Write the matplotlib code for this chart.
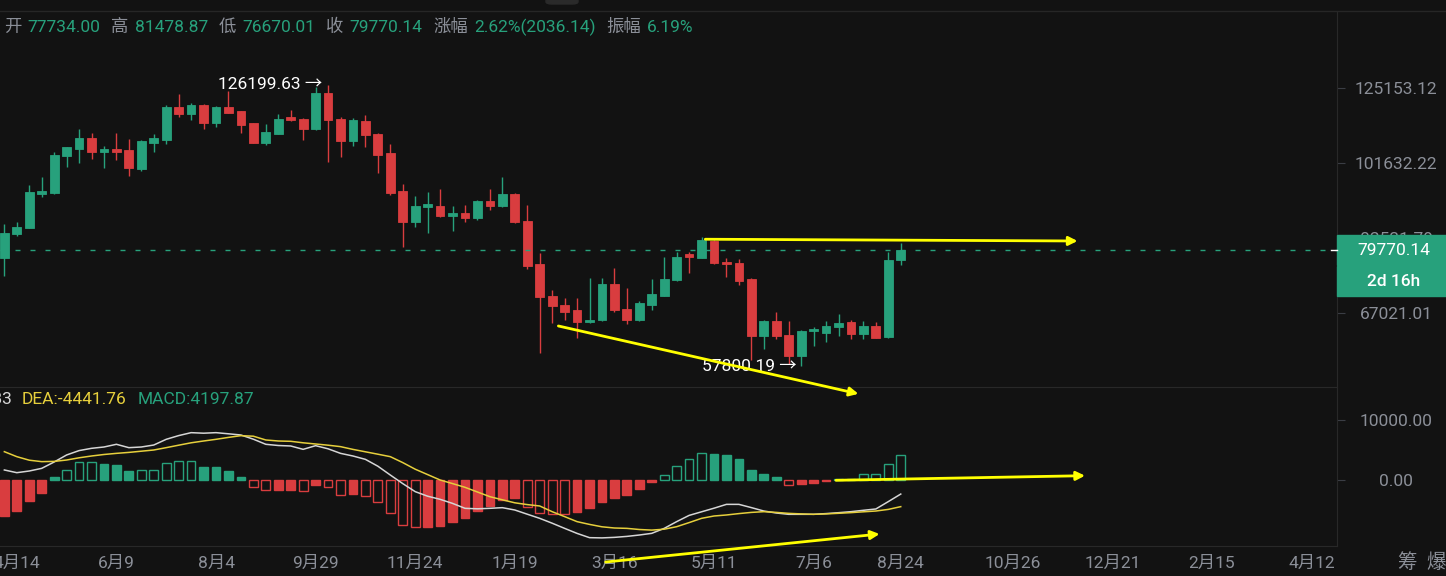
import numpy as np
import pandas as pd
import matplotlib
matplotlib.use("Agg")
import matplotlib.pyplot as plt
from matplotlib.patches import Rectangle, FancyBboxPatch
from matplotlib.lines import Line2D
from matplotlib.ticker import FixedLocator, NullLocator, FuncFormatter

plt.rcParams['font.family'] = ['Roboto', 'Noto Sans CJK SC', 'DejaVu Sans']

# weekly candles, first bar is the week of 2025-04-07
start_week = '2025-04-07'

opens = [78160, 83480, 84870, 93280, 93620, 103630, 105640, 108830, 104890, 105640,
         105380, 99860, 107540, 108350, 118710, 116440, 119380, 113480, 118610, 117320,
         113480, 107540, 110250, 115360, 114910, 111570, 123320, 114810, 108050, 114300,
         110160, 104420, 94060, 86310, 90040, 90220, 87820, 88420, 87330, 91410,
         90290, 93280, 86550, 76750, 70290, 68560, 67490, 65280, 65650, 72680,
         67790, 65650, 68560, 70350, 73350, 78910, 78160, 81950, 77310, 77100,
         73670, 62910, 65590, 63090, 59400, 63670, 63490, 64550, 65280, 63210,
         64680, 62680, 77734.00]
highs = [85830, 86310, 95550, 97680, 104800, 106330, 111670, 110560, 106540, 110370,
         108710, 108350, 110160, 119380, 122980, 119950, 119600, 119040, 124220, 117400,
         113600, 113160, 116440, 117750, 115000, 125600, 126199.63, 115560, 115040, 116110,
         110560, 107140, 95820, 92830, 93880, 94470, 90220, 90470, 91740, 94580,
         97850, 93400, 90470, 79270, 71480, 69950, 69840, 73820, 73820, 75890,
         71800, 69200, 73610, 78250, 79490, 79490, 82710, 82110, 78030, 77870,
         73820, 65770, 67190, 65590, 63970, 64550, 65590, 66820, 65770, 65470,
         65280, 79490, 81478.87]
lows = [74360, 83010, 84800, 92570, 93280, 100510, 101730, 102840, 100140, 102500,
        98040, 99420, 104890, 107140, 115560, 114530, 111570, 112400, 116670, 110560,
        107360, 106930, 110100, 114300, 108350, 111400, 101850, 103430, 106540, 106150,
        98790, 92940, 80450, 85180, 83650, 87580, 84250, 86240, 86790, 89230,
        90040, 86000, 75680, 59970, 65170, 65650, 62500, 65200, 65600, 67300,
        65050, 65600, 67620, 70300, 73300, 74860, 78100, 76750, 74150, 72470,
        58870, 60670, 62320, 58210, 57800.19, 61190, 61760, 62960, 62320, 62320,
        62500, 62600, 76670.01]
closes = [83650, 85180, 93720, 94060, 104010, 106150, 108830, 104890, 105640, 104890,
          100140, 108050, 108830, 118810, 116340, 119380, 113480, 118710, 116870, 112940,
          107540, 110680, 114810, 114530, 111570, 123320, 114530, 108050, 114530, 109850,
          104010, 93620, 86310, 90220, 90650, 87750, 88420, 87330, 91410, 90290,
          93280, 86240, 76390, 70150, 68370, 67300, 65280, 65770, 72680, 67490,
          65650, 69000, 70690, 73610, 78380, 78250, 82110, 77100, 76820, 73290,
          62910, 65590, 62910, 59400, 63670, 64130, 64680, 65170, 63210, 64680,
          62610, 77734.00, 79770.14]

dif = [1670, 1220, 1500, 1940, 3000, 4170, 4900, 5280, 5500, 5950,
       5390, 5500, 5830, 6780, 7400, 7890, 7800, 7890, 7700, 7500,
       6800, 5950, 5750, 5670, 5110, 5720, 5200, 4440, 4000, 3440,
       2300, 830, -600, -1940, -2700, -3220, -3900, -4720, -4800, -4720,
       -4610, -5000, -5700, -6390, -7200, -8060, -8900, -9610, -9650, -9560,
       -9400, -9170, -8890, -8060, -6940, -5900, -5300, -4700, -4060, -4060,
       -4600, -5170, -5500, -5720, -5720, -5720, -5600, -5450, -5280, -5050,
       -4830, -3600, -2342.83]
dea = [4720, 3890, 3300, 3060, 3100, 3330, 3700, 4000, 4250, 4440,
       4600, 4800, 5000, 5390, 5800, 6200, 6500, 6780, 7100, 7390,
       7300, 6670, 6500, 6450, 6200, 6000, 5800, 5560, 5100, 4700,
       4300, 3890, 2900, 1800, 900, 0, -600, -1220, -2000, -2780,
       -3300, -3800, -4100, -4330, -5280, -6100, -6940, -7400, -7800, -8000,
       -8060, -8250, -8350, -8200, -7780, -7100, -6390, -6000, -5830, -5600,
       -5400, -5280, -5400, -5560, -5650, -5720, -5650, -5550, -5440, -5300,
       -5170, -4900, -4441.76]
macd_hist = [-6000, -5170, -3450, -2220, 450, 1670, 2950, 3000, 2670, 2500,
             1500, 1670, 1720, 2780, 3110, 3220, 2220, 2200, 1560, 450,
             -1110, -1700, -1650, -1620, -1780, -830, -1110, -2420, -2380, -2610,
             -3610, -5560, -7500, -7890, -7780, -7670, -6940, -6390, -5110, -4330,
             -3330, -3060, -4560, -5440, -5670, -5720, -5400, -4600, -3700, -2950,
             -2500, -1500, -390, 830, 2390, 3440, 4460, 4400, 4170, 3440,
             1670, 1000, 440, -890, -670, -440, -220, 200, 190, 940,
             950, 2670, 4197.87]

price_ticks = [125153.12, 101632.22, 82531.79, 67021.01]
macd_ticks = [10000, 0]
tick_dates = ['2025-04-14', '2025-06-09', '2025-08-04', '2025-09-29', '2025-11-24',
              '2026-01-19', '2026-03-16', '2026-05-11', '2026-07-06', '2026-08-24',
              '2026-10-26', '2026-12-21', '2027-02-15', '2027-04-12']
tick_labels = ['4月14', '6月9', '8月4', '9月29', '11月24', '1月19', '3月16', '5月11',
               '7月6', '8月24', '10月26', '12月21', '2月15', '4月12']
countdown = '2d 16h'

# hand-drawn yellow lines: (week index, value) start and end
upper_line = [(56.3, 82250), (86.2, 81850)]
lower_line = [(44.5, 64650), (68.6, 53550)]
macd_line = [(66.8, -50), (86.8, 720)]
macd_low_line = [(48.3, -13670), (70.3, -9000)]

BG = '#121212'
GREEN = '#27a17c'
RED = '#d93d3f'
GRAY = '#8b8f98'
YELLOW = '#ffff00'
DEA_C = '#e6cf3c'
LINE = '#282828'

W, H = 1446, 576
fig = plt.figure(figsize=(W / 100, H / 100), dpi=100, facecolor=BG)
ax = fig.add_axes([0, 1 - 387 / H, 1337 / W, 375 / H])
ax2 = fig.add_axes([0, 1 - 546 / H, 1337 / W, 158 / H], sharex=ax)
for a in (ax, ax2):
    a.set_facecolor('none')
    for s in ('top', 'left'):
        a.spines[s].set_visible(False)
    for s in ('bottom', 'right'):
        a.spines[s].set_color(LINE)

o = np.array(opens, float)
h = np.array(highs, float)
l = np.array(lows, float)
c = np.array(closes, float)
x = np.arange(len(c))
cols = np.where(c >= o, GREEN, RED)

ax.vlines(x, l, h, colors=cols, lw=1.0)
ax.bar(x, np.abs(c - o), bottom=np.minimum(o, c), width=0.7, color=cols,
       edgecolor=cols, lw=0.6)
ax.set_yscale('log')
ax.set_ylim(54577, 154545)
ax.set_xlim(-0.35, 107.04)
ax.axhline(c[-1], color=GREEN, lw=1, dashes=(3.6, 7.2))

ax.yaxis.set_major_locator(FixedLocator(price_ticks))
ax.yaxis.set_minor_locator(NullLocator())
ax.yaxis.set_major_formatter(FuncFormatter(lambda v, p: f'{v:.2f}'))
ax.yaxis.tick_right()
ax.tick_params(axis='y', colors='#3a3d44', labelcolor=GRAY, length=6, pad=36.5,
               labelsize=12.5)
for lab in ax.get_yticklabels():
    lab.set_horizontalalignment('center')
ax.tick_params(axis='x', bottom=False, labelbottom=False)

# extreme labels
ih = int(np.argmax(h))
ilo = int(np.argmin(l))
ax.text(ih - 0.45, h[ih], f'{h[ih]:.2f} →', color='white', fontsize=12.5,
        ha='right', va='center')
ax.text(ilo - 0.33, l[ilo], f'{l[ilo]:.2f} →', color='white', fontsize=12.5,
        ha='right', va='center')

# MACD pane
hist = np.array(macd_hist, float)
prev = np.concatenate([[hist[0]], hist[:-1]])
hcol = np.where(hist >= 0, GREEN, RED)
hollow = np.abs(hist) > np.abs(prev)
face = [('none' if ho else col) for ho, col in zip(hollow, hcol)]
ax2.bar(x, hist, width=0.7, color=face, edgecolor=hcol, lw=1.0)
ax2.plot(x, dif, color='#d6d6d6', lw=1.1)
ax2.plot(x, dea, color=DEA_C, lw=1.1)
ax2.set_ylim(-11000, 15333)
ax2.yaxis.set_major_locator(FixedLocator(macd_ticks))
ax2.yaxis.set_major_formatter(FuncFormatter(lambda v, p: f'{v:.2f}'))
ax2.yaxis.tick_right()
ax2.tick_params(axis='y', colors='#3a3d44', labelcolor=GRAY, length=6, pad=36.5,
                labelsize=12.5)
for lab in ax2.get_yticklabels():
    lab.set_horizontalalignment('center')

tick_pos = (pd.to_datetime(tick_dates) - pd.Timestamp(start_week)).days / 7
ax2.set_xticks(tick_pos)
ax2.set_xticklabels(tick_labels)
ax2.tick_params(axis='x', length=0, pad=7, labelcolor=GRAY, labelsize=12.5)

# yellow drawings
def arrow(a, pts, head=True):
    (x0, y0), (x1, y1) = pts
    a.annotate('', xy=(x1, y1), xytext=(x0, y0), annotation_clip=False,
               arrowprops=dict(arrowstyle='-|>', color=YELLOW, lw=2.0,
                               mutation_scale=13, shrinkA=0, shrinkB=0))

arrow(ax, upper_line)
arrow(ax, lower_line)
arrow(ax2, macd_line)
arrow(ax2, macd_low_line)

# header
renderer = fig.canvas.get_renderer()
prev_close = c[-2]
chg = c[-1] - prev_close
items = [('开', f'{o[-1]:.2f}'), ('高', f'{h[-1]:.2f}'), ('低', f'{l[-1]:.2f}'),
         ('收', f'{c[-1]:.2f}'),
         ('涨幅', f'{chg / prev_close * 100:.2f}%({chg:.2f})'),
         ('振幅', f'{(h[-1] - l[-1]) / prev_close * 100:.2f}%')]
xp = 4
for lab, val in items:
    t = fig.text(xp / W, 1 - 27 / H, lab, color=GRAY, fontsize=12.5, va='center')
    xp = t.get_window_extent(renderer).x1 + 6
    t = fig.text(xp / W, 1 - 27 / H, val, color=GREEN, fontsize=12.5, va='center')
    xp = t.get_window_extent(renderer).x1 + 11

# MACD header
yh = 1 - 400 / H
fig.text(12 / W, yh, f'DIF:{dif[-1]:.2f}', color='#d6d6d6', fontsize=12.5,
         ha='right', va='center')
t = fig.text(22 / W, yh, f'DEA:{dea[-1]:.2f}', color=DEA_C, fontsize=12.5, va='center')
xp = t.get_window_extent(renderer).x1 + 11
fig.text(xp / W, yh, f'MACD:{hist[-1]:.2f}', color=GREEN, fontsize=12.5, va='center')

# last price tag
yc = ax.transData.transform((0, c[-1]))[1]
fig.add_artist(Rectangle((1337 / W, (yc - 15) / H), 109 / W, 30 / H,
                         transform=fig.transFigure, color=GREEN, zorder=5))
fig.add_artist(Rectangle((1337 / W, (yc - 46) / H), 109 / W, 30 / H,
                         transform=fig.transFigure, color=GREEN, zorder=5))
fig.text(1394 / W, yc / H, f'{c[-1]:.2f}', color='white', fontsize=12.5,
         ha='center', va='center', zorder=6)
fig.text(1394 / W, (yc - 31) / H, countdown, color='white', fontsize=12.5,
         ha='center', va='center', zorder=6, fontweight='medium')
fig.add_artist(Line2D([1331 / W, 1337 / W], [yc / H, yc / H], color='white', lw=1,
                      transform=fig.transFigure, zorder=6))

# frame bits
fig.add_artist(Line2D([0, 1], [1 - 11 / H] * 2, color='#262626', lw=1,
                      transform=fig.transFigure))
fig.add_artist(FancyBboxPatch((546 / W, 1 - 4 / H), 32 / W, 6 / H,
                              boxstyle='round,pad=0,rounding_size=0.004',
                              transform=fig.transFigure, color='#2a2a2a'))
fig.text(1407 / W, 1 - 563 / H, '筹', color=GRAY, fontsize=14, ha='center', va='center')
fig.text(1436 / W, 1 - 563 / H, '爆', color=GRAY, fontsize=14, ha='center', va='center')

fig.savefig('out.png', dpi=100, facecolor=BG)
